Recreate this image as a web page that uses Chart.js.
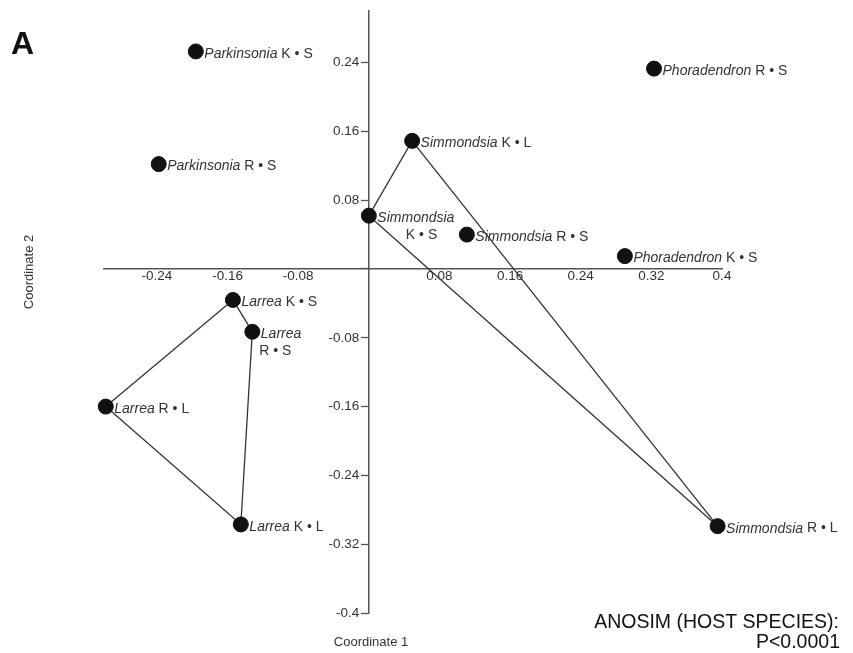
<!DOCTYPE html>
<html>
<head>
<meta charset="utf-8">
<script src="https://cdn.jsdelivr.net/npm/chart.js@4.4.0/dist/chart.umd.min.js"></script>
<style>
  html, body { margin: 0; padding: 0; background: #fff; }
</style>
</head>
<body>
<canvas id="pcoChart" width="853" height="653"></canvas>
<script>
// PCoA ordination, one point per host / tissue sample
const genera = ['Parkinsonia', 'Parkinsonia', 'Simmondsia', 'Simmondsia', 'Simmondsia', 'Phoradendron',
                'Phoradendron', 'Larrea', 'Larrea', 'Larrea', 'Larrea', 'Simmondsia'];
const groups = ['K • S', 'R • S', 'K • L', 'K • S', 'R • S', 'R • S',
                'K • S', 'K • S', 'R • S', 'R • L', 'K • L', 'R • L'];
const coord1 = [-0.196, -0.238, 0.049, 0.0, 0.111, 0.323, 0.290, -0.154, -0.132, -0.298, -0.145, 0.395];
const coord2 = [0.253, 0.122, 0.149, 0.062, 0.040, 0.233, 0.015, -0.036, -0.073, -0.160, -0.297, -0.299];

// hull outlines, as indices into the arrays above
const simmondsiaHull = [3, 2, 11, 3];
const larreaHull = [7, 8, 10, 9, 7];

const xTicks = [-0.24, -0.16, -0.08, 0, 0.08, 0.16, 0.24, 0.32, 0.4];
const yTicks = [-0.4, -0.32, -0.24, -0.16, -0.08, 0, 0.08, 0.16, 0.24];

const FONT = '"Liberation Sans", Arial, sans-serif';
const INK = '#333';
const AXIS = '#555';

// labels that wrap onto a second line: [dx, dy] of the second line
const wrapped = {3: [37, 19], 8: [7, 19.5]};

function hullPoints(idx) {
    return idx.map(i => ({x: coord1[i], y: coord2[i]}));
}

const fmt = v => (v === 0 ? '' : String(v));

const pointLabels = {
    id: 'pointLabels',
    afterDatasetsDraw(chart) {
        const ctx = chart.ctx;
        const meta = chart.getDatasetMeta(0);
        ctx.save();
        ctx.fillStyle = INK;
        ctx.textBaseline = 'middle';
        ctx.textAlign = 'left';
        meta.data.forEach((pt, i) => {
            let x = pt.x + 8.5;
            let y = pt.y + 2.5;
            ctx.font = 'italic 14px ' + FONT;
            ctx.fillText(genera[i], x, y);
            if (wrapped[i]) {
                ctx.font = '14px ' + FONT;
                ctx.fillText(groups[i], pt.x + wrapped[i][0], pt.y + wrapped[i][1]);
            } else {
                let w = ctx.measureText(genera[i] + ' ').width;
                ctx.font = '14px ' + FONT;
                ctx.fillText(groups[i], x + w, y);
            }
        });
        ctx.restore();
    }
};

// y tick labels: Chart.js puts them on the axis line when the axis crosses at x=0,
// so they are drawn here, left of the tick marks
const yTickLabels = {
    id: 'yTickLabels',
    afterDraw(chart) {
        const ctx = chart.ctx;
        const ys = chart.scales.y;
        const axisX = chart.scales.x.getPixelForValue(0);
        ctx.save();
        ctx.fillStyle = INK;
        ctx.font = '13.5px ' + FONT;
        ctx.textAlign = 'right';
        ctx.textBaseline = 'middle';
        ys.ticks.forEach(t => {
            ctx.fillText(fmt(t.value), axisX - 9.5, ys.getPixelForValue(t.value));
        });
        ctx.restore();
    }
};

const annotations = {
    id: 'annotations',
    afterDraw(chart) {
        const ctx = chart.ctx;
        ctx.save();
        ctx.fillStyle = '#111';
        ctx.font = 'bold 32px ' + FONT;
        ctx.textAlign = 'left';
        ctx.textBaseline = 'alphabetic';
        ctx.fillText('A', 11, 53.5);

        ctx.font = '19.5px ' + FONT;
        ctx.textAlign = 'right';
        ctx.fillText('ANOSIM (HOST SPECIES):', 839, 628);
        ctx.fillText('P<0.0001', 840, 647.5);

        ctx.fillStyle = INK;
        ctx.font = '13px ' + FONT;
        ctx.textAlign = 'center';
        ctx.textBaseline = 'middle';
        ctx.fillText('Coordinate 1', 371, 642);
        ctx.translate(29, 272);
        ctx.rotate(-Math.PI / 2);
        ctx.fillText('Coordinate 2', 0, 0);
        ctx.restore();
    }
};

const tickFont = {family: FONT, size: 13.5};

new Chart(document.getElementById('pcoChart'), {
    type: 'scatter',
    data: {
        datasets: [
            {
                label: 'samples',
                data: coord1.map((x, i) => ({x: x, y: coord2[i]})),
                backgroundColor: '#111',
                borderColor: '#111',
                pointRadius: 7.5,
                pointHoverRadius: 7.5,
                clip: false,
                order: 0
            },
            {
                label: 'Simmondsia',
                data: hullPoints(simmondsiaHull),
                showLine: true,
                borderColor: INK,
                borderWidth: 1.3,
                pointRadius: 0,
                clip: false,
                order: 1
            },
            {
                label: 'Larrea',
                data: hullPoints(larreaHull),
                showLine: true,
                borderColor: INK,
                borderWidth: 1.3,
                pointRadius: 0,
                clip: false,
                order: 1
            }
        ]
    },
    options: {
        responsive: false,
        animation: false,
        layout: {padding: {left: 104, right: 131, top: 11, bottom: 40}},
        plugins: {
            legend: {display: false},
            tooltip: {enabled: false}
        },
        scales: {
            x: {
                type: 'linear',
                min: -0.3,
                max: 0.4,
                position: {y: 0},
                afterBuildTicks: s => { s.ticks = xTicks.map(v => ({value: v})); },
                ticks: {callback: fmt, font: tickFont, color: INK, padding: -1, maxRotation: 0, autoSkip: false},
                grid: {display: true, drawOnChartArea: false, drawTicks: false},
                border: {color: AXIS, width: 1.5}
            },
            y: {
                type: 'linear',
                min: -0.4,
                max: 0.3,
                position: {x: 0},
                afterBuildTicks: s => { s.ticks = yTicks.map(v => ({value: v})); },
                ticks: {display: false, autoSkip: false},
                grid: {display: true, drawOnChartArea: false, drawTicks: true, tickLength: 7, color: AXIS, tickWidth: 1.3},
                border: {color: AXIS, width: 1.5}
            }
        }
    },
    plugins: [pointLabels, yTickLabels, annotations]
});
</script>
</body>
</html>
